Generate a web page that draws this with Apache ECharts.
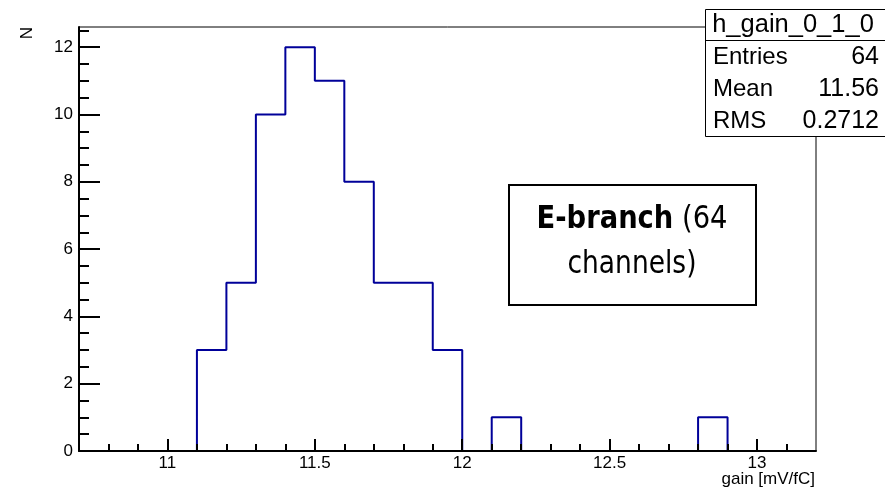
<!DOCTYPE html>
<html>
<head>
<meta charset="utf-8">
<script src="https://cdn.jsdelivr.net/npm/echarts@6/dist/echarts.min.js"></script>
<style>html,body{margin:0;padding:0;background:#fff;}#chart{width:885px;height:488px;}</style>
</head>
<body>
<div id="chart"></div>
<script>
// Histogram bins (lower edges) and counts
const binLow = [10.7, 10.8, 10.9, 11.0, 11.1, 11.2, 11.3, 11.4, 11.5, 11.6, 11.7, 11.8, 11.9,
                12.0, 12.1, 12.2, 12.3, 12.4, 12.5, 12.6, 12.7, 12.8, 12.9, 13.0, 13.1];
const binUpperEdge = 13.2;
const counts = [0, 0, 0, 0, 3, 5, 10, 12, 11, 8, 5, 5, 3,
                0, 1, 0, 0, 0, 0, 0, 0, 1, 0, 0, 0];
const xMajorTicks = [11, 11.5, 12, 12.5, 13];
const xMinorTicks = [10.8, 10.9, 11.1, 11.2, 11.3, 11.4, 11.6, 11.7, 11.8, 11.9,
                     12.1, 12.2, 12.3, 12.4, 12.6, 12.7, 12.8, 12.9, 13.1];
const yMajorTicks = [0, 2, 4, 6, 8, 10, 12];
const yMinorTicks = [0.5, 1, 1.5, 2.5, 3, 3.5, 4.5, 5, 5.5, 6.5, 7, 7.5, 8.5, 9, 9.5,
                     10.5, 11, 11.5, 12.5];
const histName = 'h_gain_0_1_0';
const statsLabels = ['Entries', 'Mean', 'RMS'];
const statsValues = ['64', '11.56', '0.2712'];
const xTitle = 'gain [mV/fC]';
const yTitle = 'N';

const chart = echarts.init(document.getElementById('chart'), null, {renderer: 'canvas'});
const font = 'Liberation Sans, Arial, Helvetica, sans-serif';
const data = binLow.map((x, i) => [x, counts[i]]);
data.push([binUpperEdge, 0]);

const L = 79, T = 27, R = 816, B = 451;

const graphics = [];
// stats box
const sx = 705, sy = 9, sw = 181, rowH = 32;
graphics.push({type: 'rect', z: 100, shape: {x: sx + 0.5, y: sy + 0.5, width: sw, height: 127},
  style: {fill: '#fff', stroke: '#000', lineWidth: 1}});
graphics.push({type: 'line', z: 101, shape: {x1: sx, y1: 40.5, x2: sx + sw, y2: 40.5},
  style: {stroke: '#000', lineWidth: 1}});
graphics.push({type: 'text', z: 102, style: {text: histName, x: 793, y: 25, align: 'center', verticalAlign: 'middle',
  font: '25.5px ' + font, fill: '#000'}});
statsLabels.forEach((lab, i) => {
  const cy = 57 + i * rowH;
  graphics.push({type: 'text', z: 102, style: {text: lab, x: 713, y: cy, align: 'left', verticalAlign: 'middle',
    font: '24px ' + font, fill: '#000'}});
  graphics.push({type: 'text', z: 102, style: {text: statsValues[i], x: 879, y: cy, align: 'right', verticalAlign: 'middle',
    font: '25px ' + font, fill: '#000'}});
});
// annotation box
graphics.push({type: 'rect', z: 100, shape: {x: 509, y: 185, width: 247, height: 120},
  style: {fill: '#fff', stroke: '#000', lineWidth: 2}});
const cfont = '"DejaVu Sans Condensed", "Liberation Sans Narrow", sans-serif';
graphics.push({type: 'text', z: 102, x: 632, y: 220, scaleX: 0.95, style: {
  text: '{b|E-branch} {n|(64}', x: 0, y: 0, align: 'center', verticalAlign: 'middle',
  rich: {
    b: {fontFamily: cfont, fontSize: 32, fontWeight: 'bold', fill: '#000'},
    n: {fontFamily: cfont, fontSize: 32, fontWeight: 'normal', fill: '#000'}
  },
  fontFamily: cfont, fontSize: 32, fill: '#000'}});
graphics.push({type: 'text', z: 102, x: 632, y: 265, scaleX: 0.92, style: {text: 'channels)', x: 0, y: 0, align: 'center', verticalAlign: 'middle',
  fontFamily: cfont, fontSize: 32, fontWeight: 'normal', fill: '#000'}});
// axis titles
graphics.push({type: 'text', z: 102, rotation: Math.PI / 2, x: 27, y: 33, style: {text: yTitle, x: 0, y: 0,
  align: 'center', verticalAlign: 'middle', font: '17px ' + font, fill: '#000'}});
graphics.push({type: 'text', z: 102, style: {text: xTitle, x: 815, y: 479, align: 'right', verticalAlign: 'middle',
  font: '17px ' + font, fill: '#000'}});

const option = {
  animation: false,
  backgroundColor: '#fff',
  grid: {left: L, top: T, right: 885 - R, bottom: 488 - B, show: true, borderColor: '#000', borderWidth: 1, backgroundColor: 'transparent'},
  xAxis: [{
    type: 'value', min: 10.7, max: 13.2, z: 5,
    splitLine: {show: false},
    axisLine: {show: true, onZero: false, lineStyle: {color: '#000', width: 2}},
    axisTick: {show: true, inside: true, length: 12, customValues: xMajorTicks, lineStyle: {color: '#000', width: 2}},
    axisLabel: {show: true, customValues: xMajorTicks, margin: 4, color: '#000', fontSize: 17, fontFamily: font}
  }, {
    type: 'value', min: 10.7, max: 13.2, position: 'bottom', z: 5,
    splitLine: {show: false},
    axisLine: {show: false, onZero: false},
    axisTick: {show: true, inside: true, length: 7, customValues: xMinorTicks, lineStyle: {color: '#000', width: 2}},
    axisLabel: {show: false}
  }],
  yAxis: [{
    type: 'value', min: 0, max: 12.6, z: 5,
    splitLine: {show: false},
    axisLine: {show: true, onZero: false, lineStyle: {color: '#000', width: 2}},
    axisTick: {show: true, inside: true, length: 21, customValues: yMajorTicks, lineStyle: {color: '#000', width: 2}},
    axisLabel: {show: true, customValues: yMajorTicks, margin: 6, color: '#000', fontSize: 17, fontFamily: font}
  }, {
    type: 'value', min: 0, max: 12.6, position: 'left', z: 5,
    splitLine: {show: false},
    axisLine: {show: false, onZero: false},
    axisTick: {show: true, inside: true, length: 10, customValues: yMinorTicks, lineStyle: {color: '#000', width: 2}},
    axisLabel: {show: false}
  }],
  series: [{
    type: 'line', step: 'end', data: data, xAxisIndex: 0, yAxisIndex: 0,
    showSymbol: false, symbol: 'none', z: 2,
    lineStyle: {color: '#000099', width: 2},
    emphasis: {disabled: true}
  }],
  graphic: graphics
};
chart.setOption(option);
</script>
</body>
</html>
